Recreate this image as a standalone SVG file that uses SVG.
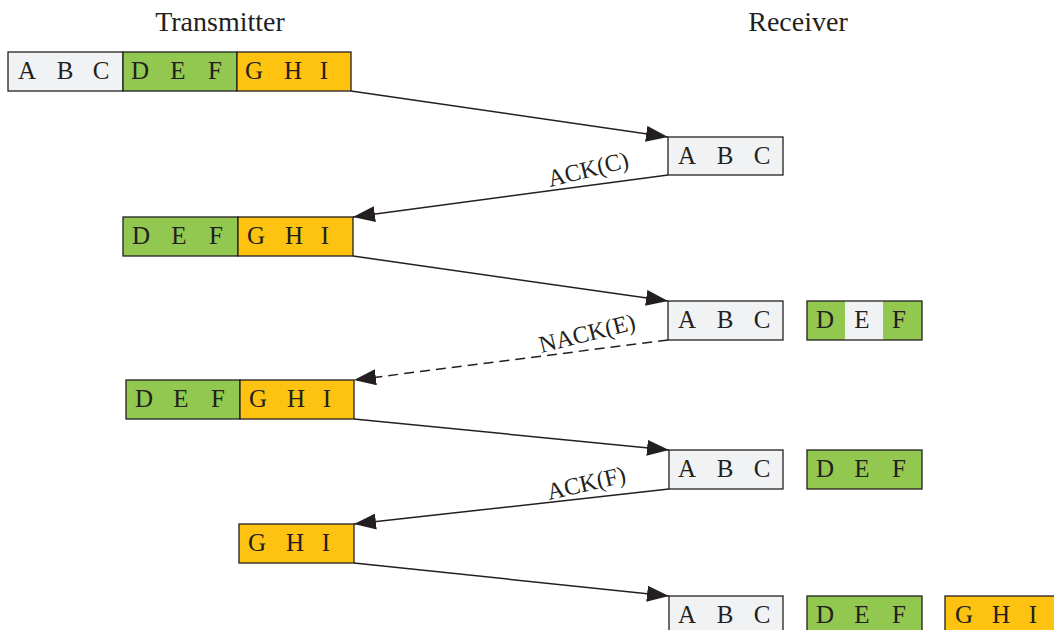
<svg xmlns="http://www.w3.org/2000/svg" width="1054" height="630" viewBox="0 0 1054 630">
  <style>
    .box { stroke: #231F20; stroke-width: 1.3; }
    .gray { fill: #F1F2F4; }
    .green { fill: #92C850; }
    .orange { fill: #FEC210; }
    .cell { stroke: none; }
    .lt { font-family: "Liberation Serif", "Times New Roman", serif; font-size: 25px; fill: #231F20; text-anchor: middle; }
    .title { font-family: "Liberation Serif", "Times New Roman", serif; font-size: 28px; fill: #231F20; text-anchor: middle; }
    .lbl { font-family: "Liberation Serif", "Times New Roman", serif; font-size: 24px; fill: #231F20; text-anchor: middle; }
    .arrow { stroke: #231F20; stroke-width: 1.5; fill: none; marker-end: url(#head); }
    .dash { stroke-dasharray: 10 6; }
  </style>
  <defs>
    <marker id="head" markerUnits="userSpaceOnUse" markerWidth="23" markerHeight="16" refX="22" refY="8" orient="auto">
      <path d="M0,0 L22,8 L0,16 Z" fill="#231F20"/>
    </marker>
  </defs>

  <rect width="1054" height="630" fill="#FFFFFF"/>

  <!-- column headings -->
  <text class="title" x="220" y="31">Transmitter</text>
  <text class="title" x="798" y="31">Receiver</text>

  <!-- transmitter, step 1 -->
  <g id="tx1">
    <rect class="box gray" x="8" y="52" width="115" height="39"/>
    <rect class="box green" x="123" y="52" width="114" height="39"/>
    <rect class="box orange" x="237" y="52" width="114" height="39"/>
    <text class="lt" x="27" y="79">A</text><text class="lt" x="65" y="79">B</text><text class="lt" x="101" y="79">C</text>
    <text class="lt" x="140" y="79">D</text><text class="lt" x="178" y="79">E</text><text class="lt" x="215" y="79">F</text>
    <text class="lt" x="254" y="79">G</text><text class="lt" x="293" y="79">H</text><text class="lt" x="324" y="79">I</text>
  </g>

  <!-- receiver, step 1 -->
  <g id="rx1">
    <rect class="box gray" x="668" y="137" width="115" height="38"/>
    <text class="lt" x="687" y="164">A</text><text class="lt" x="725" y="164">B</text><text class="lt" x="762" y="164">C</text>
  </g>

  <!-- transmitter, step 2 -->
  <g id="tx2">
    <rect class="box green" x="123" y="217" width="115" height="39"/>
    <rect class="box orange" x="238" y="217" width="115" height="39"/>
    <text class="lt" x="141" y="244">D</text><text class="lt" x="179" y="244">E</text><text class="lt" x="216" y="244">F</text>
    <text class="lt" x="256" y="244">G</text><text class="lt" x="294" y="244">H</text><text class="lt" x="325" y="244">I</text>
  </g>

  <!-- receiver, step 2 -->
  <g id="rx2">
    <rect class="box gray" x="668" y="301" width="115" height="39"/>
    <text class="lt" x="687" y="328">A</text><text class="lt" x="725" y="328">B</text><text class="lt" x="762" y="328">C</text>
  </g>
  <g id="rx2b">
    <rect class="cell green" x="807" y="301" width="38" height="39"/>
    <rect class="cell gray" x="845" y="301" width="38" height="39"/>
    <rect class="cell green" x="883" y="301" width="39" height="39"/>
    <rect class="box" x="807" y="301" width="115" height="39" fill="none"/>
    <text class="lt" x="825" y="328">D</text><text class="lt" x="862" y="328">E</text><text class="lt" x="899" y="328">F</text>
  </g>

  <!-- transmitter, step 3 -->
  <g id="tx3">
    <rect class="box green" x="126" y="380" width="114" height="39"/>
    <rect class="box orange" x="240" y="380" width="114" height="39"/>
    <text class="lt" x="144" y="407">D</text><text class="lt" x="181" y="407">E</text><text class="lt" x="218" y="407">F</text>
    <text class="lt" x="258" y="407">G</text><text class="lt" x="296" y="407">H</text><text class="lt" x="327" y="407">I</text>
  </g>

  <!-- receiver, step 3 -->
  <g id="rx3">
    <rect class="box gray" x="669" y="450" width="114" height="39"/>
    <text class="lt" x="687" y="477">A</text><text class="lt" x="725" y="477">B</text><text class="lt" x="762" y="477">C</text>
  </g>
  <g id="rx3b">
    <rect class="box green" x="807" y="450" width="115" height="39"/>
    <text class="lt" x="825" y="477">D</text><text class="lt" x="862" y="477">E</text><text class="lt" x="899" y="477">F</text>
  </g>

  <!-- transmitter, step 4 -->
  <g id="tx4">
    <rect class="box orange" x="239" y="524" width="115" height="39"/>
    <text class="lt" x="257" y="551">G</text><text class="lt" x="295" y="551">H</text><text class="lt" x="326" y="551">I</text>
  </g>

  <!-- receiver, step 4 -->
  <g id="rx4">
    <rect class="box gray" x="669" y="596" width="114" height="39"/>
    <text class="lt" x="687" y="623">A</text><text class="lt" x="725" y="623">B</text><text class="lt" x="762" y="623">C</text>
  </g>
  <g id="rx4b">
    <rect class="box green" x="807" y="596" width="115" height="39"/>
    <text class="lt" x="825" y="623">D</text><text class="lt" x="862" y="623">E</text><text class="lt" x="899" y="623">F</text>
  </g>
  <g id="rx4c">
    <rect class="box orange" x="945" y="596" width="120" height="39"/>
    <text class="lt" x="964" y="623">G</text><text class="lt" x="1001" y="623">H</text><text class="lt" x="1033" y="623">I</text>
  </g>

  <!-- transfers and acknowledgements -->
  <g id="connectors">
    <line class="arrow" x1="351" y1="91" x2="668" y2="137"/>
    <line class="arrow" x1="668" y1="175" x2="353" y2="217"/>
    <line class="arrow" x1="353" y1="256" x2="668" y2="301"/>
    <line class="arrow dash" x1="668" y1="340" x2="354" y2="380"/>
    <line class="arrow" x1="354" y1="419" x2="669" y2="450"/>
    <line class="arrow" x1="669" y1="489" x2="354" y2="524"/>
    <line class="arrow" x1="354" y1="563" x2="669" y2="596"/>
    <text class="lbl" transform="translate(590,177) rotate(-14)">ACK(C)</text>
    <text class="lbl" transform="translate(589,341) rotate(-14)">NACK(E)</text>
    <text class="lbl" transform="translate(588,491) rotate(-13)">ACK(F)</text>
  </g>
</svg>
